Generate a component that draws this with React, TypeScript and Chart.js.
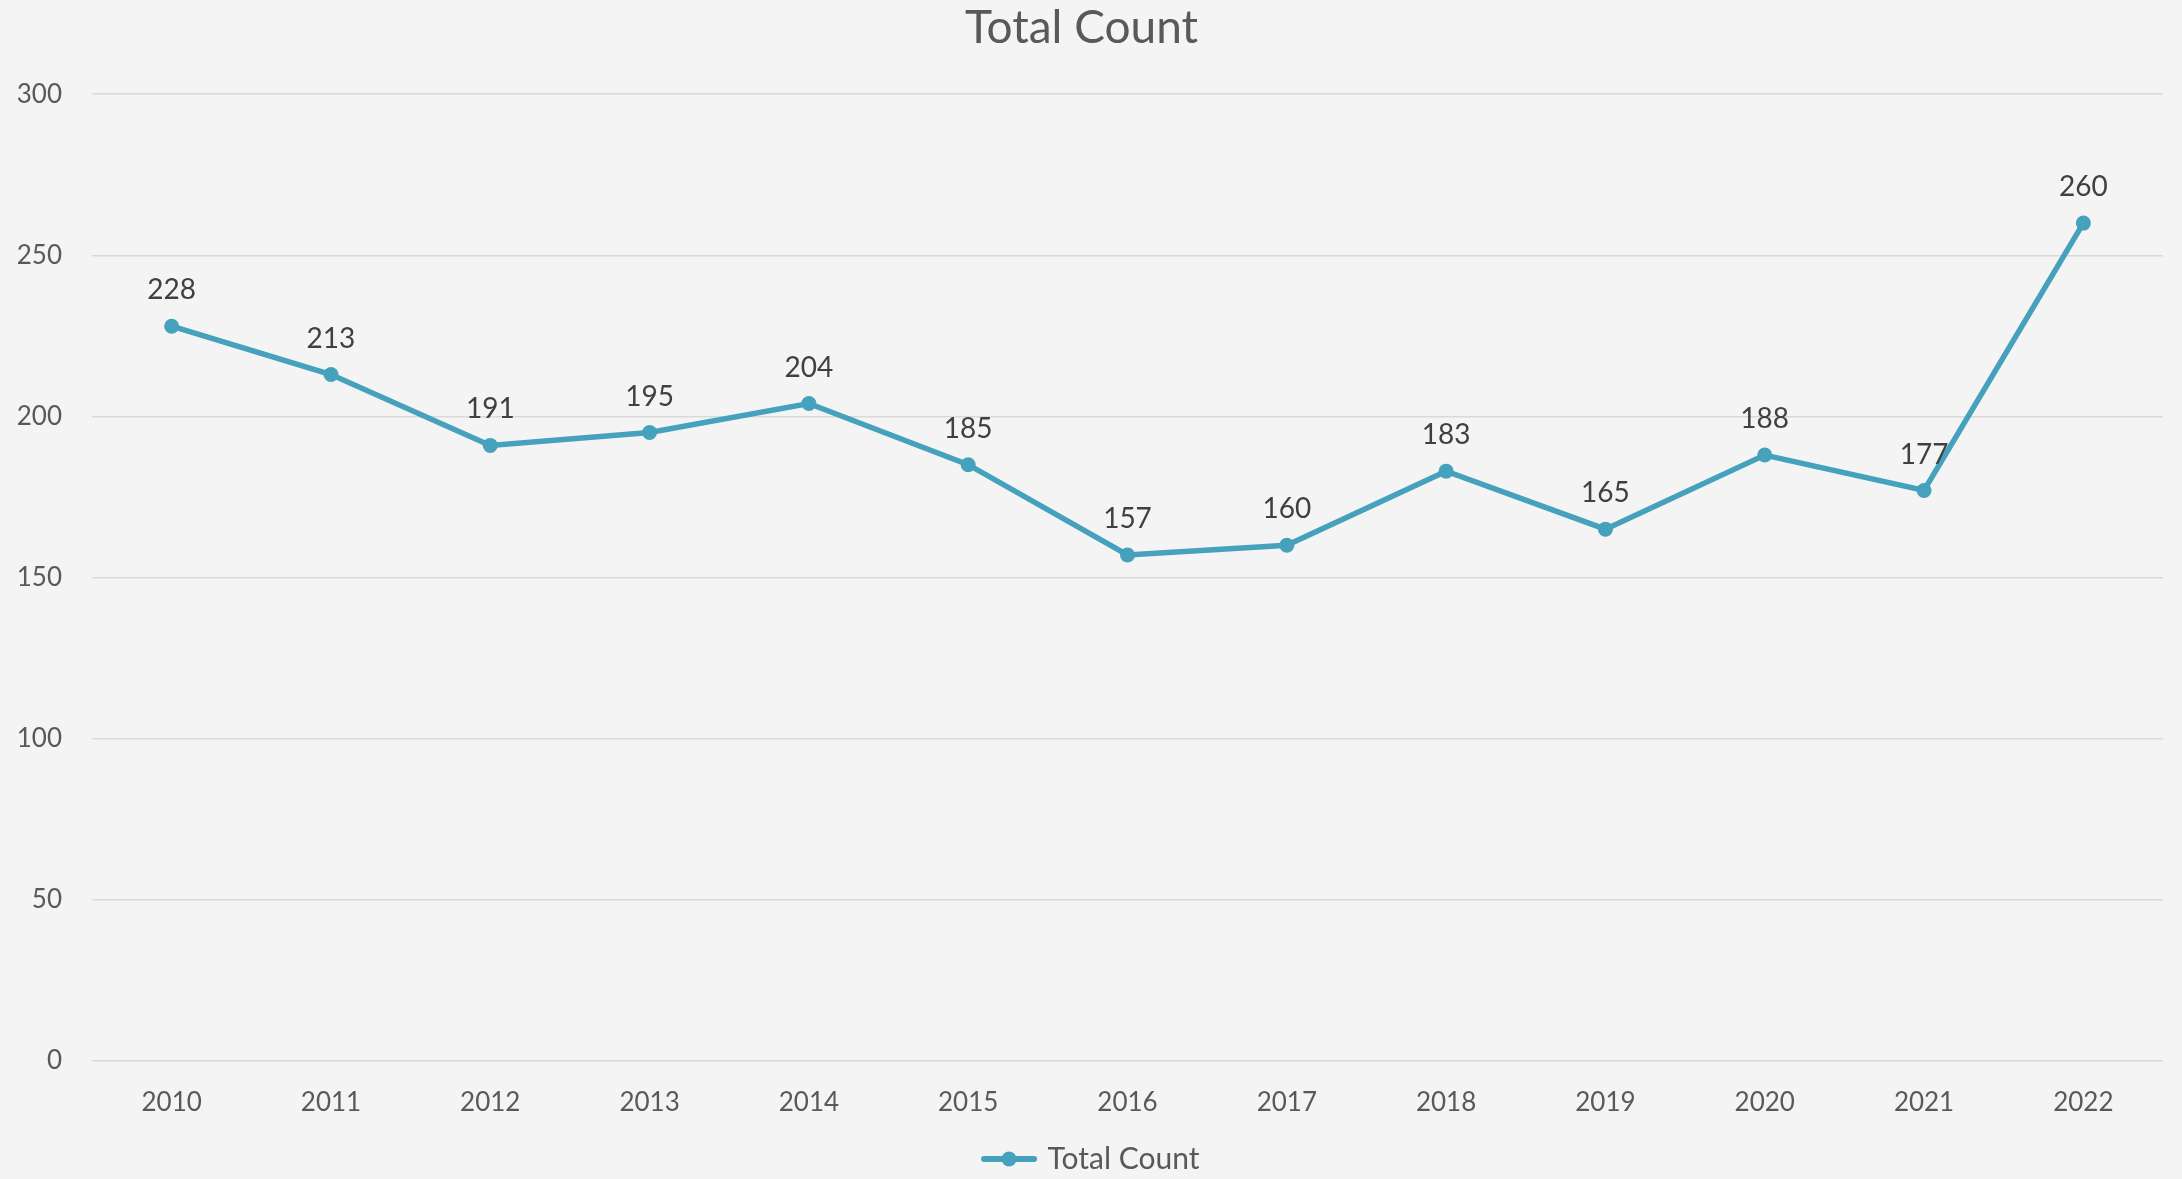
import React, { useEffect, useRef } from 'react';
import { Chart, registerables } from 'chart.js';

Chart.register(...registerables);

const categories: string[] = ['2010', '2011', '2012', '2013', '2014', '2015', '2016', '2017', '2018', '2019', '2020', '2021', '2022'];
const totalCount: number[] = [228, 213, 191, 195, 204, 185, 157, 160, 183, 165, 188, 177, 260];
const yTicks: number[] = [0, 50, 100, 150, 200, 250, 300];
const seriesName = 'Total Count';
const titleText = 'Total Count';

const FONT = 'Lato, "Open Sans", sans-serif';
const LINE_COLOR = '#45A1BC';
const TEXT_COLOR = '#595959';
const LABEL_COLOR = '#404040';
const GRID_COLOR = '#D9D9D9';
const BG = '#F4F4F4';

function makeLegendIcon(): HTMLCanvasElement {
  const c = document.createElement('canvas');
  c.width = 80;
  c.height = 18;
  const g = c.getContext('2d')!;
  g.strokeStyle = LINE_COLOR;
  g.lineWidth = 6;
  g.lineCap = 'round';
  g.beginPath();
  g.moveTo(26, 9);
  g.lineTo(76, 9);
  g.stroke();
  g.fillStyle = LINE_COLOR;
  g.beginPath();
  g.arc(51, 9, 7.5, 0, Math.PI * 2);
  g.fill();
  return c;
}

const dataLabelPlugin = {
  id: 'dataLabels',
  afterDatasetsDraw(chart: any) {
    const ctx = chart.ctx;
    const meta = chart.getDatasetMeta(0);
    const values = chart.data.datasets[0].data as number[];
    ctx.save();
    ctx.font = `28px ${FONT}`;
    ctx.fillStyle = LABEL_COLOR;
    ctx.textAlign = 'center';
    ctx.textBaseline = 'middle';
    meta.data.forEach((pt: any, i: number) => {
      ctx.fillText(String(values[i]), pt.x, pt.y - 36);
    });
    ctx.restore();
  },
};

const bgPlugin = {
  id: 'bg',
  beforeDraw(chart: any) {
    const ctx = chart.ctx;
    ctx.save();
    ctx.fillStyle = BG;
    ctx.fillRect(0, 0, chart.width, chart.height);
    ctx.restore();
  },
};

export default function App() {
  const ref = useRef<HTMLCanvasElement | null>(null);

  useEffect(() => {
    document.body.style.margin = '0';
    document.body.style.background = BG;
    if (!ref.current) return;
    const chart = new Chart(ref.current, {
      type: 'line',
      data: {
        labels: categories,
        datasets: [
          {
            label: seriesName,
            data: totalCount,
            borderColor: LINE_COLOR,
            backgroundColor: LINE_COLOR,
            borderWidth: 5.5,
            pointRadius: 7.5,
            pointHoverRadius: 7.5,
            pointBorderWidth: 0,
            pointBackgroundColor: LINE_COLOR,
            tension: 0,
          },
        ],
      },
      options: {
        responsive: false,
        animation: false,
        devicePixelRatio: 1,
        layout: { padding: { left: 0, right: 19, top: 0, bottom: -5 } },
        scales: {
          x: {
            offset: true,
            grid: { display: false, drawTicks: false },
            border: { display: false },
            ticks: {
              color: TEXT_COLOR,
              font: { family: FONT, size: 26 },
              padding: 26,
              maxRotation: 0,
            },
          },
          y: {
            min: 0,
            max: 300,
            afterBuildTicks(scale: any) {
              scale.ticks = yTicks.map((v) => ({ value: v }));
            },
            afterFit(scale: any) {
              scale.width = 92;
            },
            grid: { color: GRID_COLOR, lineWidth: 1.5, drawTicks: false },
            border: { display: false },
            ticks: {
              color: TEXT_COLOR,
              font: { family: FONT, size: 26 },
              padding: 30,
            },
          },
        },
        plugins: {
          title: {
            display: true,
            text: titleText,
            color: TEXT_COLOR,
            font: { family: FONT, size: 46, weight: 'normal' },
            padding: { top: 1, bottom: 38 },
          },
          legend: {
            display: true,
            position: 'bottom',
            labels: {
              usePointStyle: true,
              pointStyle: makeLegendIcon() as any,
              pointStyleWidth: 69,
              color: TEXT_COLOR,
              font: { family: FONT, size: 30 },
              padding: 0,
            },
          },
          tooltip: { enabled: false },
        },
      },
      plugins: [bgPlugin, dataLabelPlugin],
    });
    return () => chart.destroy();
  }, []);

  return (
    <div style={{ width: 2182, height: 1179, background: BG }}>
      <canvas ref={ref} width={2182} height={1179} style={{ display: 'block' }} />
    </div>
  );
}
